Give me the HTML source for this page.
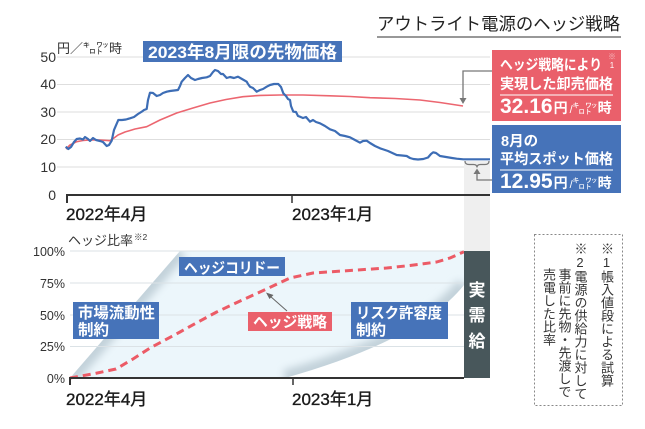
<!DOCTYPE html>
<html><head><meta charset="utf-8">
<style>
html,body{margin:0;padding:0;background:#fff;}
body{width:645px;height:429px;position:relative;overflow:hidden;font-family:"Liberation Sans","Noto Sans CJK JP",sans-serif;}
svg{position:absolute;left:0;top:0;}
.v{position:absolute;writing-mode:vertical-rl;text-orientation:upright;font-size:13px;line-height:13px;color:#333;font-family:"Liberation Sans","Noto Sans CJK JP",sans-serif;white-space:nowrap;}
</style></head><body>
<svg width="645" height="429" viewBox="0 0 645 429" xmlns="http://www.w3.org/2000/svg" font-family="Liberation Sans, Noto Sans CJK JP, sans-serif">
<defs>
<clipPath id="cor"><path d="M70,378 L180,251 L464,251 L464,285 Q420,340 285,378 Z"/></clipPath>
<filter id="bl" x="-20%" y="-20%" width="140%" height="140%"><feGaussianBlur stdDeviation="4"/></filter>
</defs>

<!-- Title -->
<text x="377" y="30" font-size="17.5" fill="#222" textLength="243" lengthAdjust="spacingAndGlyphs">アウトライト電源のヘッジ戦略</text>
<line x1="377" y1="37" x2="621" y2="37" stroke="#777" stroke-width="1.5"/>

<!-- top chart gridlines -->
<g stroke="#dedede" stroke-width="1">
<line x1="57" y1="57" x2="490" y2="57"/>
<line x1="57" y1="84.5" x2="490" y2="84.5"/>
<line x1="57" y1="112" x2="490" y2="112"/>
<line x1="57" y1="139.5" x2="490" y2="139.5"/>
<line x1="57" y1="167" x2="490" y2="167"/>
</g>
<!-- top y labels -->
<g font-size="14" fill="#333" text-anchor="end">
<text x="56" y="62">50</text>
<text x="56" y="89">40</text>
<text x="56" y="117">30</text>
<text x="56" y="144">20</text>
<text x="56" y="172">10</text>
<text x="56" y="200">0</text>
</g>
<text x="57" y="53" font-size="13" fill="#333">円／㌔㍗時</text>

<!-- gray column -->
<rect x="464" y="161" width="26" height="90" fill="#efefef"/>

<!-- top axis -->
<line x1="66" y1="195" x2="490" y2="195" stroke="#333" stroke-width="2"/>
<line x1="67" y1="195" x2="67" y2="203" stroke="#333" stroke-width="2"/>
<line x1="292" y1="195" x2="292" y2="203" stroke="#333" stroke-width="1.5"/>
<text x="66" y="220" font-size="17" fill="#1a1a1a" stroke="#1a1a1a" stroke-width="0.35">2022年4月</text>
<text x="292" y="220" font-size="17" fill="#1a1a1a" stroke="#1a1a1a" stroke-width="0.35">2023年1月</text>

<!-- red line -->
<polyline fill="none" stroke="#ec6670" stroke-width="1.6" stroke-linejoin="round" points="66,149 70,145 76.7,141.7 83,140.5 90,140 100,140 110,140.7 114,138 118,135 125,132 135,129 146.7,126.7 160,120 176.7,113 193,108 210,103 226,99.5 243,96.7 260,95.4 280,95 303,95 330,95.8 350,96.5 370,97.7 395,98.5 420,100 440,102.5 463,106"/>

<!-- blue line -->
<polyline fill="none" stroke="#3d6db5" stroke-width="2.2" stroke-linejoin="round" points="65.7,146.7 68.3,149 71,147 74,142 76.7,139 80,138.5 83,139.5 85,137 88,139 90,141 93,138 96,140 100,141 103,142 106.7,146 109,145 111.7,140.7 114,130 118.3,120 122,120 126,119.5 130,118.3 134,117 138,114 141.7,111.7 144,110 146.7,109 148,100 150,92.7 153,93 156.7,96 160,95 163,93 166.7,91.7 170,91 174,90.5 178,90 180,86 181.7,81.7 185,78 188,75 191,78 195,80 198,79 202,78 206.7,77.3 210,76 213,72 215,70 218,71 221,74 223,74 226.7,78 230,77 234,78 238,76.7 242,79 246.7,81.7 248,84 250,86.7 253,88 256.7,91.7 260,90 263,89 266.7,86.7 270,85 274,84 278.3,84 281,87 283.3,93.3 286,96 288,99 290,100 291,106 293.3,111.7 296,112 298,116 300,116.7 303,118 306,117 310,121.7 313,120 316,122 320,123.3 325,126 330,129.3 335,131 340,135 345,136 350,137.3 355,140 360,142.7 363,141 366.7,140.7 370,143 375,146 380,148.3 388,151 396.7,155 402,155.5 406.7,156 410,158 413.3,159 418,159.5 423.3,159 428,157.5 431,154 433.3,152.3 436,153 440,156 446,157 452,158 456.7,158.7 463.3,159.3 490,159.3"/>

<!-- top title box -->
<rect x="143" y="41" width="199" height="21" fill="#4673b9"/>
<text x="148" y="58" font-size="17" font-weight="bold" fill="#fff" textLength="189" lengthAdjust="spacingAndGlyphs">2023年8月限の先物価格</text>

<!-- connectors top -->
<polyline points="492,71 463,71 463,100" fill="none" stroke="#777" stroke-width="1.3"/>
<path d="M459.5,98 L463,104 L466.5,98 Z" fill="#777"/>
<path d="M465,161 q0,3.5 4,3.5 h4.5 q3.5,0 3.5,3 q0,-3 3.5,-3 h4.5 q4,0 4,-3.5" fill="none" stroke="#777" stroke-width="1.2"/>
<polyline points="477,171 477,180 492,180" fill="none" stroke="#777" stroke-width="1.3"/>
<path d="M473.5,174 L477,168.5 L480.5,174 Z" fill="#777"/>

<!-- red info box -->
<rect x="492" y="50" width="129" height="71" fill="#ea606b"/>
<text x="500" y="70" font-size="14.5" font-weight="bold" fill="#fff" textLength="102" lengthAdjust="spacingAndGlyphs">ヘッジ戦略により</text>
<text x="612" y="59" font-size="7.5" fill="#f7c3c7" text-anchor="middle">※</text>
<text x="612" y="68" font-size="8" fill="#fff" text-anchor="middle">1</text>
<text x="500" y="89" font-size="14.5" font-weight="bold" fill="#fff" textLength="113" lengthAdjust="spacingAndGlyphs">実現した卸売価格</text>
<line x1="500" y1="95" x2="613" y2="95" stroke="#fff" stroke-width="1"/>
<text x="500" y="113" fill="#fff"><tspan font-size="21" font-weight="bold">32.16</tspan><tspan font-size="14" font-weight="bold" dx="1">円</tspan><tspan font-size="11" dx="2">/</tspan><tspan font-size="12.5">㌔㍗</tspan><tspan font-size="14" font-weight="bold">時</tspan></text>

<!-- blue info box -->
<rect x="492" y="125" width="129" height="68" fill="#4673b9"/>
<text x="501" y="146" font-size="14.5" font-weight="bold" fill="#fff">8月の</text>
<text x="500" y="164" font-size="14.5" font-weight="bold" fill="#fff" textLength="113" lengthAdjust="spacingAndGlyphs">平均スポット価格</text>
<line x1="500" y1="170" x2="613" y2="170" stroke="#fff" stroke-width="1"/>
<text x="500" y="188" fill="#fff"><tspan font-size="21" font-weight="bold">12.95</tspan><tspan font-size="14" font-weight="bold" dx="1">円</tspan><tspan font-size="11" dx="2">/</tspan><tspan font-size="12.5">㌔㍗</tspan><tspan font-size="14" font-weight="bold">時</tspan></text>

<!-- bottom chart -->
<text x="68" y="245" font-size="13" fill="#333">ヘッジ比率</text>
<text x="134" y="240" font-size="8.5" fill="#333">※2</text>

<!-- corridor -->
<path d="M70,378 L180,251 L464,251 L464,285 Q420,340 285,378 Z" fill="#ecf6fb"/>
<g clip-path="url(#cor)">
<path d="M70,378 L180,251" fill="none" stroke="#c3d2da" stroke-width="16" filter="url(#bl)"/>
<path d="M464,285 Q420,340 285,378" fill="none" stroke="#c3d2da" stroke-width="16" filter="url(#bl)"/>
<line x1="160" y1="251" x2="464" y2="251" stroke="#d3dde2" stroke-width="5" filter="url(#bl)"/>
</g>

<g stroke="#dbe2e6" stroke-width="1">
<line x1="70" y1="251" x2="464" y2="251"/>
<line x1="70" y1="283" x2="464" y2="283"/>
<line x1="70" y1="315" x2="464" y2="315"/>
<line x1="70" y1="346.5" x2="464" y2="346.5"/>
</g>

<g font-size="12.5" fill="#333" text-anchor="end">
<text x="65" y="256">100%</text>
<text x="65" y="288">75%</text>
<text x="65" y="320">50%</text>
<text x="65" y="351">25%</text>
<text x="65" y="383">0%</text>
</g>

<!-- dashed hedge line -->
<polyline fill="none" stroke="#ec5b66" stroke-width="3" stroke-dasharray="8,5" stroke-linejoin="round" points="70,378 95,373.5 116,369 133,359 150,348 165,340 180,332 198,322 216.7,312 238,302 260,292 275,285 290,278 313,273 350,270.5 386.7,268 410,265.5 436.7,262 450,258 464,251.7"/>

<!-- bottom axis -->
<line x1="69" y1="378" x2="464" y2="378" stroke="#333" stroke-width="2"/>
<line x1="70" y1="377" x2="70" y2="385" stroke="#333" stroke-width="2"/>
<line x1="293" y1="378" x2="293" y2="385" stroke="#333" stroke-width="1.5"/>
<text x="66" y="405" font-size="17" fill="#1a1a1a" stroke="#1a1a1a" stroke-width="0.35">2022年4月</text>
<text x="292" y="405" font-size="17" fill="#1a1a1a" stroke="#1a1a1a" stroke-width="0.35">2023年1月</text>

<!-- 実需給 -->
<rect x="464" y="251" width="26" height="127" fill="#48575b"/>
<g font-size="17" font-weight="bold" fill="#fff" text-anchor="middle">
<text x="477" y="296">実</text>
<text x="477" y="321">需</text>
<text x="477" y="347">給</text>
</g>

<!-- labels -->
<rect x="179" y="257" width="106" height="19" fill="#4673b9"/>
<text x="184" y="273" font-size="15" font-weight="bold" fill="#fff" textLength="96" lengthAdjust="spacingAndGlyphs">ヘッジコリドー</text>

<rect x="73" y="302" width="86" height="37" fill="#4673b9"/>
<text x="78" y="318" font-size="15.5" font-weight="bold" fill="#fff" textLength="77" lengthAdjust="spacingAndGlyphs">市場流動性</text>
<text x="78" y="335" font-size="15.5" font-weight="bold" fill="#fff">制約</text>

<rect x="351" y="302" width="97" height="37" fill="#4673b9"/>
<text x="356" y="318" font-size="15" font-weight="bold" fill="#fff" textLength="86" lengthAdjust="spacingAndGlyphs">リスク許容度</text>
<text x="356" y="335" font-size="15" font-weight="bold" fill="#fff">制約</text>

<line x1="287" y1="311" x2="270" y2="296" stroke="#666" stroke-width="1"/>
<path d="M266,292.5 L273.5,295 L269.5,299 Z" fill="#666"/>
<rect x="248" y="312" width="84" height="19" fill="#ea606b"/>
<text x="253" y="327" font-size="15" font-weight="bold" fill="#fff" textLength="74" lengthAdjust="spacingAndGlyphs">ヘッジ戦略</text>

<!-- footnote box -->
<rect x="534.5" y="234.5" width="88" height="171" fill="none" stroke="#888" stroke-width="1" stroke-dasharray="2,2"/>
</svg>
<div class="v" style="left:600px;top:242px;">※1帳入値段による試算</div>
<div class="v" style="left:573.5px;top:242px;">※2電源の供給力に対して</div>
<div class="v" style="left:557.5px;top:268px;">事前に先物・先渡しで</div>
<div class="v" style="left:542px;top:268px;">売電した比率</div>
</body></html>
